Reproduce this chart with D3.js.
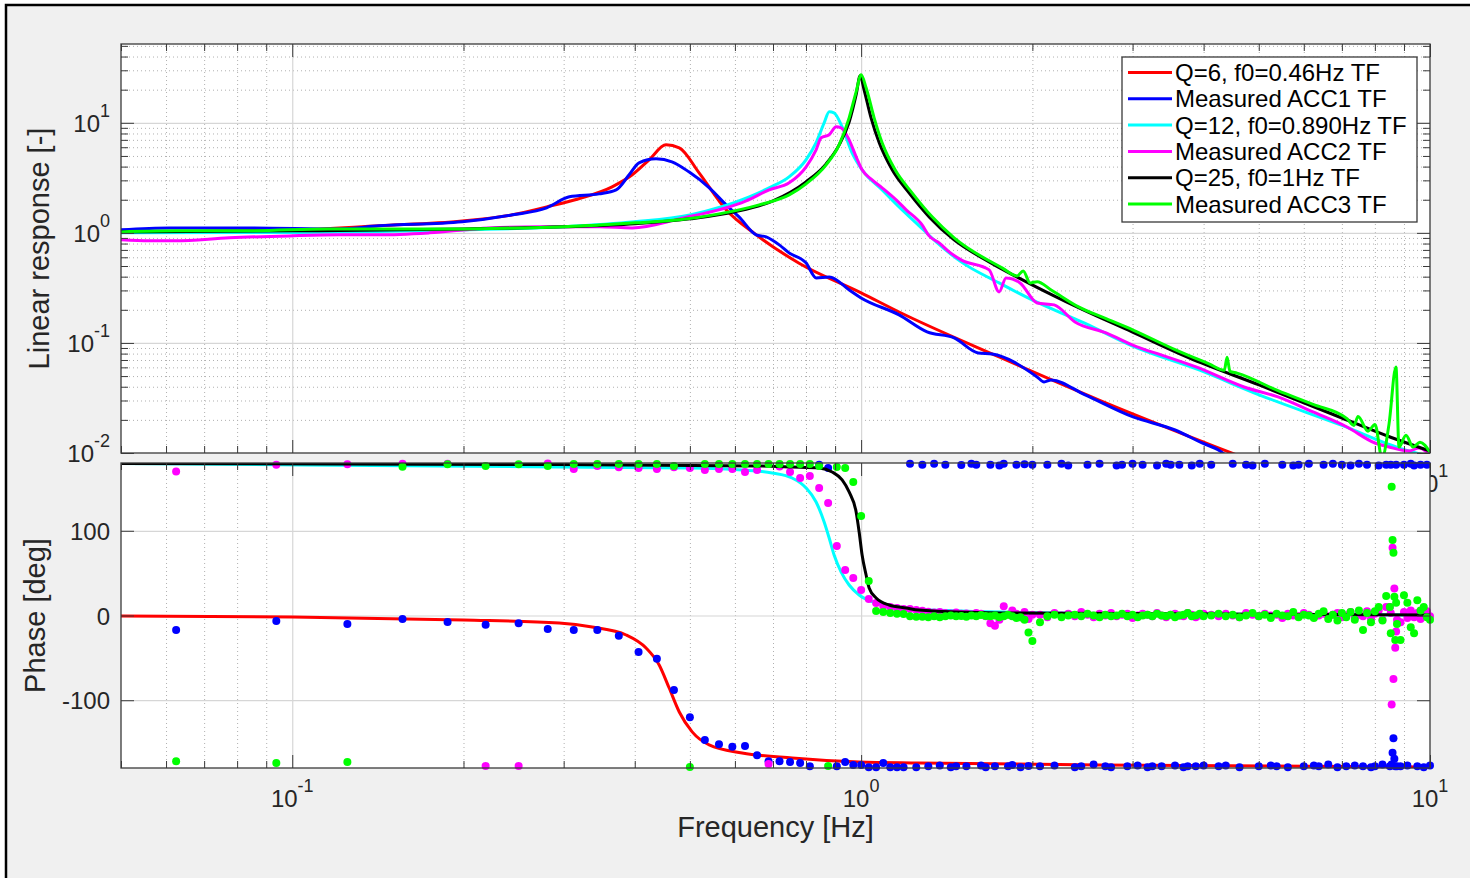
<!DOCTYPE html>
<html><head><meta charset="utf-8">
<script src="https://cdn.jsdelivr.net/npm/d3@7"></script>
<style>
html,body{margin:0;padding:0;background:#fff;overflow:hidden;}
svg{display:block;font-family:"Liberation Sans",Arial,Helvetica,sans-serif;}
</style></head><body>
<svg id="fig" width="1470" height="878"></svg>
<script>
// ---------------- DATA ----------------
const freqLimits = [0.05, 10];
const magLimits = [0.01, 52];
const phaseLimits = [-180, 180];
const freqMajorTicks = [0.1, 1, 10];
const magMajorTicks = [0.01, 0.1, 1, 10];
const phaseTicks = [-100, 0, 100];

const legendLabels = ["Q=6, f0=0.46Hz TF", "Measured ACC1 TF", "Q=12, f0=0.890Hz TF",
                      "Measured ACC2 TF", "Q=25, f0=1Hz TF", "Measured ACC3 TF"];
const seriesColors = ["#ff0000", "#0000ff", "#00ffff", "#ff00ff", "#000000", "#00ff00"];

// magnitude: Q=6 TF (red)
const redF = [0.05,0.1,0.142,0.199,0.244,0.28,0.319,0.365,0.396,0.424,0.454,0.479,0.519,0.579,0.654,0.778,1.0,1.166,1.748,2.62,4.62];
const redM = [1.02,1.06,1.16,1.28,1.46,1.72,2.04,2.62,3.37,4.61,6.31,5.93,3.51,1.62,0.96,0.53,0.285,0.191,0.0746,0.0303,0.0094];
// magnitude: ACC1 measured (blue)
const blueF = [0.05,0.0608,0.084,0.121,0.142,0.199,0.244,0.28,0.307,0.346,0.371,0.391,0.407,0.436,0.465,0.498,0.541,0.579,0.61,0.654,0.681,0.718,0.747,0.80,0.834,0.879,0.953,1.0,1.166,1.306,1.457,1.606,1.699,2.039,2.097,2.158,2.476,3.006,3.563,3.975,4.275,4.434];
const blueM = [1.065,1.11,1.11,1.087,1.158,1.259,1.458,1.688,2.125,2.262,2.46,3.369,4.329,4.707,4.42,3.585,2.565,1.797,1.398,0.959,0.92,0.778,0.658,0.534,0.39,0.398,0.303,0.2565,0.1797,0.1259,0.111,0.0811,0.0794,0.0491,0.0442,0.0461,0.0337,0.02125,0.01618,0.01233,0.01043,0.009];
// magnitude: Q=12 TF (cyan)
const cyanF = [0.05,0.1,0.2,0.3,0.4,0.5,0.636,0.689,0.747,0.80,0.833,0.861,0.879,0.896,0.926,0.964,1.004,1.089,1.166,1.249,1.355,1.499,1.748,1.998,2.466,2.994,3.926,5.006,7.002,8.93,10];
const cyanM = [1.0,1.01,1.065,1.134,1.259,1.458,2.125,2.565,3.229,4.609,6.58,10,12.59,12.33,9.195,5.337,3.738,2.46,1.723,1.233,0.828,0.545,0.351,0.246,0.152,0.094,0.0568,0.0338,0.0178,0.0109,0.0093];
// magnitude: ACC2 measured (magenta)
const magF = [0.05,0.0561,0.0623,0.0775,0.0988,0.1209,0.1422,0.1741,0.2219,0.2716,0.3463,0.3959,0.479,0.6279,0.6893,0.7473,0.8004,0.8334,0.8506,0.8787,0.9038,0.9224,0.9526,0.98,1.004,1.0455,1.0887,1.1522,1.1999,1.2799,1.3168,1.3712,1.4281,1.499,1.679,1.748,1.798,1.903,2.039,2.184,2.377,2.695,3.055,3.367,3.879,4.711,5.405,6.228,7.146,8.004,8.47,9.186,9.565,10];
const magM = [0.864,0.846,0.846,0.901,0.939,0.959,0.959,1.0,1.11,1.134,1.134,1.11,1.341,1.954,2.46,2.848,3.981,5.684,7.305,7.781,9.195,9.006,7.005,4.909,3.738,3.033,2.565,1.995,1.62,1.182,0.939,0.811,0.672,0.568,0.461,0.2908,0.39,0.351,0.231,0.2216,0.1552,0.1233,0.092,0.0778,0.0605,0.0398,0.0323,0.0236,0.01723,0.01233,0.01134,0.01043,0.0111,0.0096];
// magnitude: Q=25 TF (black)
const blackF = [0.05,0.1,0.2,0.3,0.4,0.5,0.6,0.7,0.8,0.868,0.915,0.953,0.98,0.996,1.012,1.041,1.076,1.134,1.214,1.317,1.457,1.679,1.998,2.416,2.994,3.771,5.006,7.002,8.505,10];
const blackM = [1.021,1.043,1.087,1.134,1.207,1.341,1.552,1.954,2.908,4.24,6.31,10.21,17.97,26.75,19.95,11.1,6.58,3.738,2.31,1.398,0.864,0.545,0.337,0.208,0.1259,0.0731,0.0415,0.0208,0.01397,0.01043];
// magnitude: ACC3 measured (green)
const greenF = [0.05,0.0623,0.084,0.1161,0.1542,0.2,0.2506,0.3,0.3463,0.4008,0.479,0.5629,0.6619,0.7473,0.8004,0.8679,0.9148,0.9526,0.98,1.0,1.0204,1.054,1.0887,1.1474,1.229,1.3329,1.457,1.769,1.88,1.927,1.982,2.039,2.158,2.406,2.695,3.006,3.563,4.089,4.35,4.398,4.45,4.579,5.405,6.228,7.146,7.351,7.472,7.781,8.004,8.234,8.47,8.713,8.82,9.074,9.336,9.603,10];
const greenM = [1.021,1.043,1.043,1.087,1.087,1.087,1.11,1.134,1.182,1.233,1.313,1.488,1.797,2.215,2.79,4.152,6.31,11.1,19.13,27.3,20.8,11.1,6.58,3.738,2.31,1.398,0.901,0.481,0.4066,0.4515,0.351,0.36,0.303,0.214,0.166,0.131,0.087,0.0645,0.0565,0.074,0.0552,0.0532,0.0368,0.0276,0.0205,0.0178,0.0215,0.0158,0.0182,0.009,0.0182,0.0605,0.01134,0.0145,0.01134,0.0125,0.0102];

// phase TF lines
const redPF = [0.05,0.1,0.2,0.2945,0.3367,0.3864,0.4188,0.4416,0.4598,0.479,0.5047,0.5406,0.6178,0.7563,0.992,1.2644,2.62,10];
const redPD = [-0.6,-1.8,-5.3,-8.9,-13.6,-23.0,-38.4,-58.4,-85.6,-113.9,-137.4,-152.8,-162.2,-168.1,-172.8,-174.0,-176.4,-178.7];
const cyanPF = [0.05,0.2945,0.5047,0.6178,0.6975,0.7563,0.8004,0.8334,0.861,0.8787,0.8964,0.9224,0.9526,0.992,1.0626,1.1337,1.229,1.499,2.62,10];
const cyanPD = [179.4,175.3,174.1,171.7,168.2,162.3,150.5,134.0,110.4,91.5,71.4,51.3,36.0,24.2,14.8,10.0,7.7,5.3,2.4,0.6];
const blackPF = [0.05,0.2945,0.6619,0.7563,0.8437,0.8893,0.926,0.9526,0.98,0.992,1.004,1.0204,1.033,1.0626,1.12,1.1999,1.2644,1.748,10];
const blackPD = [179.4,178.2,176.5,175.3,174.1,169.4,160.0,145.8,122.2,98.6,71.4,47.8,32.5,20.7,12.4,8.9,6.5,3.0,0.6];

// measured phase points: frequency bins (resolution 1/32 Hz)
const binWidth = 0.03125;
const phaseBins = [2,3,4,5,6,7,8,9,10,11,12,13,14,15,16,17,18,19,20,21,22,23,24,25,26,27,28,29,30,31,32,33,34,35,36,37,38,39,40,
  41,42,43,44,45,46,47,48,49,50,51,52,53,54,55,56,57,58,59,60,61,62,63,64,
  66,68,70,72,74,76,78,80,82,84,86,88,90,92,94,96,98,100,102,104,106,108,110,112,114,116,118,120,122,124,126,128,
  132,136,140,144,148,152,156,160,164,168,172,176,180,184,188,192,196,200,204,208,212,216,220,224,228,232,236,240,244,248,252,256,260,264,268,
  272,273,274,275,276,277,278,279,280,
  284,288,292,296,300,304,308,312,316,320];
const acc1Phase = [-17,-6.5,-10,-4,-7.7,-11,-9,-16,-17,-17,-24,-43,-51,-88,-120,-147,-152,-155,-154,-165,-172,-172,-173,-174,-178,178,174,-178,-173,-176.5,-176.5,-179,-179,-174,-179,-179,-179,179,-179,
  178,-178,179,-177,178,-179,-178,177.5,-178,179,178,-177,-179,178,-178,177,179,-178,-176.5,178,-179,178.5,-177.5,178,
  -178,178,-177,179,177,-179,-178,178,-176,179,-178,-179,177,178,-178,179,-177,178,-179,-178,177,-178,179,178,-177,178,-179,-178,177,-178,179,-177,
  178,-178,-177,179,-179,178,177,-178,179,-177,-178,178,-179,177,178,-178,179,-177,-178,178,-176,179,-179,178,-178,177,-177,179,-178,178,-179,-178,177,-176,178,
  -178,178,-176,-162,-145,-169,-178,178,-178,
  -178,178,-177,179,177,-178,178,-179,178,-177];
const acc2Phase = [170,178,178.5,179,179,-177.6,-177.6,179.5,173,176.5,175,174,173,175,174,171.7,173,173,169.4,171.7,-175.3,176,169.4,162.3,164.7,150.5,132.8,82,53.7,44.3,30.1,19.5,14.8,11.2,10,8.9,7.7,7.7,6.5,
  5.5,4.5,3.5,4,3,2.5,3.5,2,2.5,1.5,3,2,-1,-9,-12,-5,11,1,6,2,-2,4,-4,1,
  1,-2,3,0,2,-1,4,1,-2,2,0,3,-1,1,2,-3,0,2,1,-1,3,0,-2,1,2,0,-1,3,1,-2,0,2,
  1,-1,2,0,-2,3,1,-1,2,0,1,-3,2,0,-1,3,1,-2,0,2,-1,1,3,-2,0,4,-3,1,-1,5,-4,2,6,-5,10,
  10,3,-105,80,-75,32,-38,-19,-5,
  -8,4,-3,6,-2,3,-4,2,5,-1];
const acc3Phase = [-172,-174,-173,175.6,178.5,176.5,178.5,176.5,178.8,178.8,178.8,178.8,178.8,176.5,-178.8,178.8,178.8,178.8,178.8,178.8,178.8,178.8,178.8,178.8,178.8,176.5,-177.6,175.3,174.1,157.6,117.4,40.7,5.3,4.1,3,2,1.8,-1,-1.5,
  -1.5,-2,-1,-2,-1,0,-1,-0.5,-1.5,0,-1,0.5,-0.5,-1,0,-2,-1,1,-1,-3,-2,-5,-20,-30,
  -8,-1,1,-2,0,1,-1,2,0,-2,1,-1,0,2,-1,1,-2,0,1,-1,2,0,-1,1,-2,0,1,3,-1,0,2,-1,
  0,2,-1,1,-2,0,3,-1,1,-3,2,0,-1,4,-2,1,0,-3,2,5,-4,1,-6,3,-2,4,-5,6,-17,3,-8,5,10,-6,23,
  10,-21,152,89,74,22,-29,15,-10,
  -29,24,15,-14,-21,18,6,10,-2,-5];

// ---------------- DRAWING ----------------
const svg = d3.select('#fig');
const INK = '#262626', AX = '#3a3a3a';
svg.append('rect').attr('x',6).attr('y',5).attr('width',1490).attr('height',900)
  .attr('fill','#f0f0f0').attr('stroke','#000').attr('stroke-width',2.5);

const L = 121, R = 1430, T1 = 44, B1 = 453, T2 = 463, B2 = 768;
const x = d3.scaleLog().domain(freqLimits).range([L, R]);
const yMag = d3.scaleLog().domain(magLimits).range([B1, T1]);
const yPh = d3.scaleLinear().domain(phaseLimits).range([B2, T2]);

const isDecade = v => Math.abs(Math.log10(v) - Math.round(Math.log10(v))) < 1e-9;
const xAll = x.ticks();
const xMinor = xAll.filter(v => !isDecade(v));
const inside = (v, s, a, b) => { const p = s(v); return p > Math.min(a,b) + 0.5 && p < Math.max(a,b) - 0.5; };

const defs = svg.append('defs');
defs.append('clipPath').attr('id','clipTop').append('rect').attr('x',L).attr('y',T1).attr('width',R-L).attr('height',B1-T1);
defs.append('clipPath').attr('id','clipBot').append('rect').attr('x',L).attr('y',T2).attr('width',R-L).attr('height',B2-T2);

function styleAxis(sel, color, width, dash){
  sel.select('.domain').remove();
  sel.selectAll('text').remove();
  sel.selectAll('line').attr('stroke', color).attr('stroke-width', width).attr('stroke-dasharray', dash || null);
}

function expLabel(g, px, py, v, anchor){
  const e = Math.round(Math.log10(v));
  const t = g.append('text').attr('x',px).attr('y',py).attr('text-anchor',anchor)
    .attr('font-size',24).attr('fill',INK);
  t.append('tspan').text('10');
  t.append('tspan').attr('dy',-15).attr('font-size',18).text(String(e));
}

function drawAxesFrame(g, top, bottom, yScale, yMinorVals, yMajorVals){
  const h = bottom - top;
  g.append('rect').attr('x',L).attr('y',top).attr('width',R-L).attr('height',h).attr('fill','#fff');
  g.append('g').attr('transform',`translate(0,${bottom})`)
    .call(d3.axisBottom(x).tickValues(xMinor.filter(v=>inside(v,x,L,R))).tickSize(-h).tickFormat(''))
    .call(s=>styleAxis(s,'#b0b0b0',1,'1,3'));
  if (yMinorVals.length){
    g.append('g').attr('transform',`translate(${L},0)`)
      .call(d3.axisLeft(yScale).tickValues(yMinorVals.filter(v=>inside(v,yScale,top,bottom))).tickSize(-(R-L)).tickFormat(''))
      .call(s=>styleAxis(s,'#b0b0b0',1,'1,3'));
  }
  g.append('g').attr('transform',`translate(0,${bottom})`)
    .call(d3.axisBottom(x).tickValues(freqMajorTicks.filter(v=>inside(v,x,L,R))).tickSize(-h).tickFormat(''))
    .call(s=>styleAxis(s,'#d6d6d6',1.2));
  g.append('g').attr('transform',`translate(${L},0)`)
    .call(d3.axisLeft(yScale).tickValues(yMajorVals.filter(v=>inside(v,yScale,top,bottom))).tickSize(-(R-L)).tickFormat(''))
    .call(s=>styleAxis(s,'#d6d6d6',1.2));
}

function drawAxesTicks(g, top, bottom, yScale, yMinorVals, yMajorVals){
  const mk = (axis, tx, ty, vals, len) => g.append('g').attr('transform',`translate(${tx},${ty})`)
      .call(axis.tickValues(vals).tickSize(-len).tickFormat(''))
      .call(s=>styleAxis(s, AX, 1));
  mk(d3.axisBottom(x), 0, bottom, xMinor, 7);
  mk(d3.axisBottom(x), 0, bottom, freqMajorTicks, 13);
  mk(d3.axisTop(x), 0, top, xMinor, 7);
  mk(d3.axisTop(x), 0, top, freqMajorTicks, 13);
  if (yMinorVals.length){
    mk(d3.axisLeft(yScale), L, 0, yMinorVals, 7);
    mk(d3.axisRight(yScale), R, 0, yMinorVals, 7);
  }
  mk(d3.axisLeft(yScale), L, 0, yMajorVals, 13);
  mk(d3.axisRight(yScale), R, 0, yMajorVals, 13);
  g.append('rect').attr('x',L).attr('y',top).attr('width',R-L).attr('height',bottom-top)
    .attr('fill','none').attr('stroke',AX).attr('stroke-width',1.3);
}

// ===== TOP: magnitude =====
const gTop = svg.append('g');
const magAll = yMag.ticks();
const magMinor = magAll.filter(v => !isDecade(v));
drawAxesFrame(gTop, T1, B1, yMag, magMinor, magMajorTicks);

const magSeries = [[redF,redM],[blueF,blueM],[cyanF,cyanM],[magF,magM],[blackF,blackM],[greenF,greenM]];
const lineMag = d3.line().x(d=>x(d[0])).y(d=>yMag(d[1])).curve(d3.curveMonotoneX);
const gCurves = gTop.append('g').attr('clip-path','url(#clipTop)');
magSeries.forEach((s,i)=>{
  const pts = s[0].map((f,j)=>[f, s[1][j]]);
  gCurves.append('path').datum(pts).attr('d',lineMag).attr('fill','none')
    .attr('stroke',seriesColors[i]).attr('stroke-width',3).attr('stroke-linejoin','round');
});
drawAxesTicks(gTop, T1, B1, yMag, magMinor, magMajorTicks);

magMajorTicks.forEach(v=> expLabel(gTop, 110, yMag(v)+9, v, 'end'));
freqMajorTicks.forEach(v=> expLabel(gTop, x(v), B1+39, v, 'middle'));

// legend
const lg = gTop.append('g');
lg.append('rect').attr('x',1122).attr('y',57).attr('width',295).attr('height',165)
  .attr('fill','#fff').attr('stroke',AX).attr('stroke-width',1.3);
legendLabels.forEach((lab,i)=>{
  const cy = 72.5 + i*26.3;
  lg.append('line').attr('x1',1128).attr('x2',1172).attr('y1',cy).attr('y2',cy)
    .attr('stroke',seriesColors[i]).attr('stroke-width',3);
  lg.append('text').attr('x',1175).attr('y',cy+8.5).attr('font-size',24).attr('fill','#000').text(lab);
});

// ===== BOTTOM: phase =====
const gBot = svg.append('g');
drawAxesFrame(gBot, T2, B2, yPh, [], phaseTicks);
const linePh = d3.line().x(d=>x(d[0])).y(d=>yPh(d[1])).curve(d3.curveMonotoneX);
const phaseFreq = phaseBins.map(b => b * binWidth);
const tfPh = [[redPF,redPD],[cyanPF,cyanPD],[blackPF,blackPD]];
const meas = [acc1Phase, acc2Phase, acc3Phase];
const gP = gBot.append('g');
for (let i=0;i<3;i++){
  const s = tfPh[i];
  gP.append('path').datum(s[0].map((f,j)=>[f,s[1][j]])).attr('clip-path','url(#clipBot)')
    .attr('d',linePh).attr('fill','none').attr('stroke',seriesColors[2*i]).attr('stroke-width',3);
  gP.append('g').selectAll('circle').data(phaseFreq.map((f,j)=>[f, meas[i][j]])).join('circle')
    .attr('cx',d=>x(d[0])).attr('cy',d=>yPh(d[1])).attr('r',4).attr('fill',seriesColors[2*i+1]);
}
drawAxesTicks(gBot, T2, B2, yPh, [], phaseTicks);
phaseTicks.forEach(v=> gBot.append('text').attr('x',110).attr('y',yPh(v)+9).attr('text-anchor','end')
  .attr('font-size',24).attr('fill',INK).text(String(v)));
freqMajorTicks.forEach(v=> expLabel(gBot, x(v), B2+39, v, 'middle'));

// axis titles
svg.append('text').attr('transform',`translate(49,${(T1+B1)/2}) rotate(-90)`).attr('text-anchor','middle')
  .attr('font-size',29).attr('fill',INK).text('Linear response [-]');
svg.append('text').attr('transform',`translate(45,${(T2+B2)/2}) rotate(-90)`).attr('text-anchor','middle')
  .attr('font-size',29).attr('fill',INK).text('Phase [deg]');
svg.append('text').attr('x',(L+R)/2).attr('y',837).attr('text-anchor','middle')
  .attr('font-size',29).attr('fill',INK).text('Frequency [Hz]');
</script></body></html>
